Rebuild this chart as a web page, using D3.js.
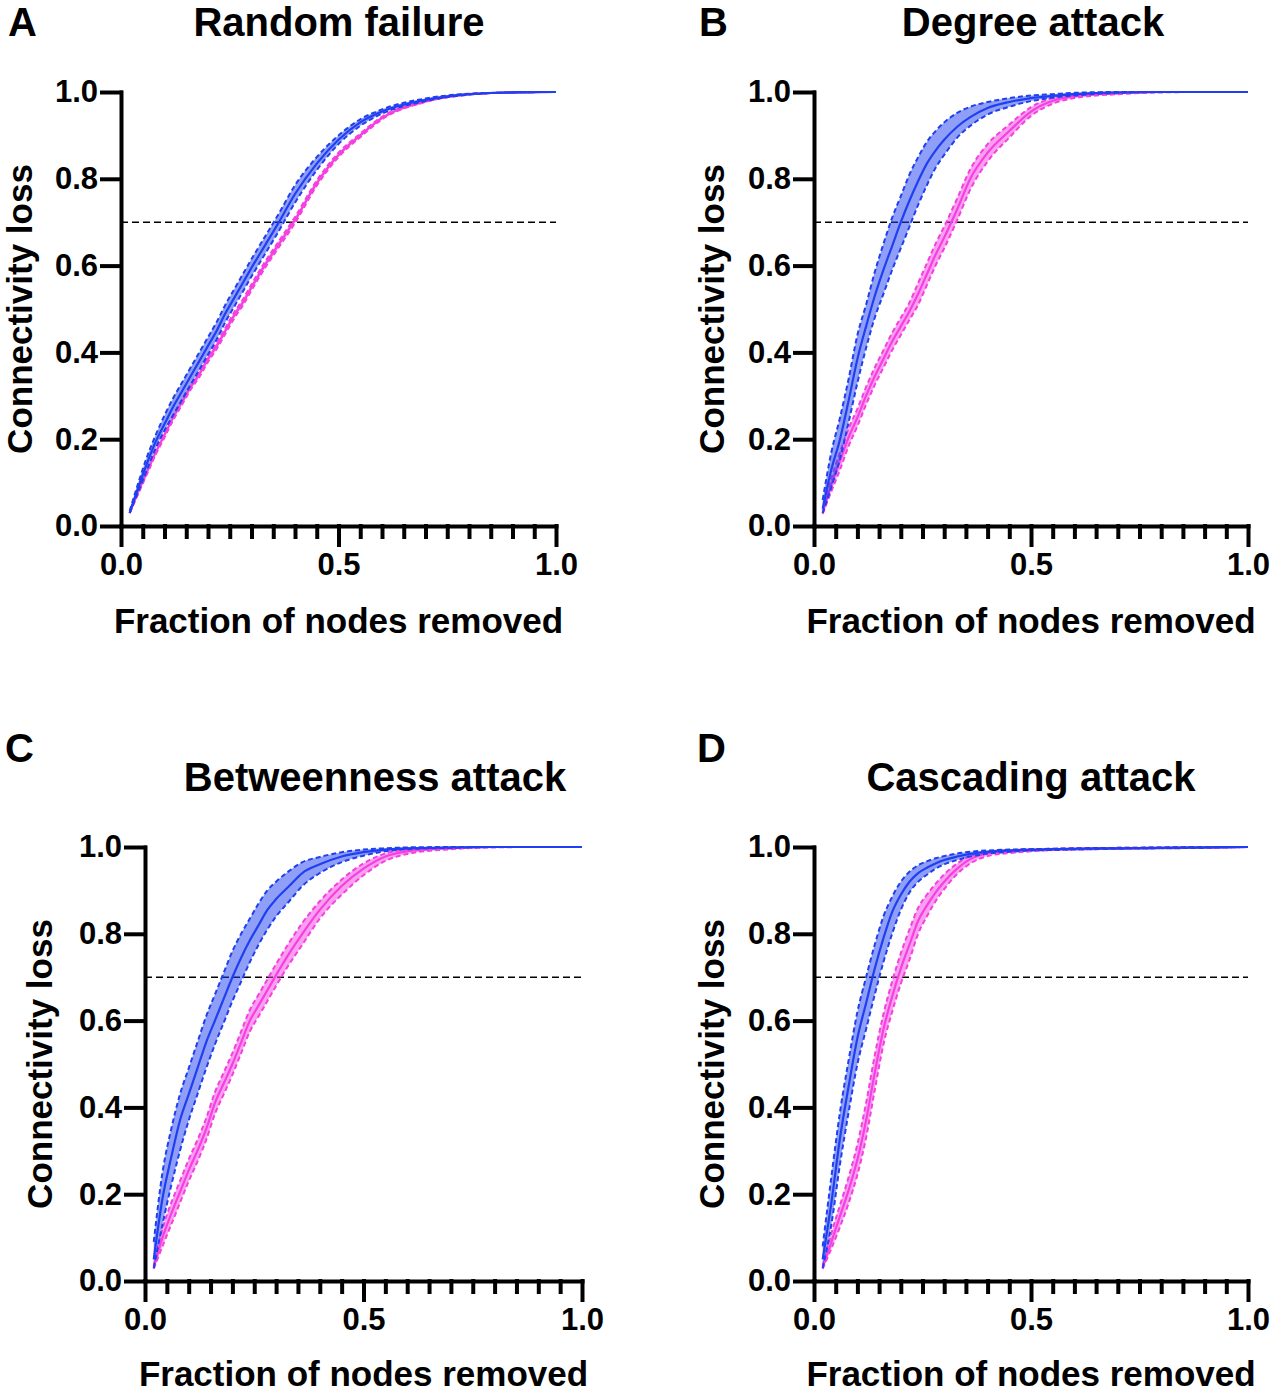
<!DOCTYPE html>
<html>
<head>
<meta charset="utf-8">
<script src="https://cdn.jsdelivr.net/npm/d3@7"></script>
<style>
  body { margin: 0; background: #fff; }
  svg text { font-family: "Liberation Sans", Arial, Helvetica, sans-serif; font-weight: bold; fill: #000; }
</style>
</head>
<body>
<div id="fig"></div>
<script>
/* Fraction of nodes removed (shared x grid) */
var fraction = [0.02, 0.04, 0.06, 0.08, 0.10, 0.12, 0.14, 0.16, 0.18, 0.20, 0.22, 0.24, 0.26,
                0.28, 0.30, 0.33, 0.36, 0.40, 0.45, 0.50, 0.55, 0.60, 0.70, 0.80, 0.90, 1.00];

var yTicks = [0, 0.2, 0.4, 0.6, 0.8, 1.0];
var xMajorTicks = [0, 0.5, 1.0];
var xMinorTicks = [0.05, 0.1, 0.15, 0.2, 0.25, 0.3, 0.35, 0.4, 0.45, 0.55, 0.6, 0.65, 0.7, 0.75, 0.8, 0.85, 0.9, 0.95];
var threshold = 0.7;

var panelTitles = ["Random failure", "Degree attack", "Betweenness attack", "Cascading attack"];
var panelLetters = ["A", "B", "C", "D"];

/* A - Random failure */
var randBlueMean  = [0.03, 0.09, 0.145, 0.195, 0.235, 0.275, 0.31, 0.345, 0.38, 0.415, 0.45, 0.49, 0.525, 0.56, 0.595, 0.645, 0.695, 0.765, 0.835, 0.89, 0.93, 0.955, 0.982, 0.995, 0.999, 1.0];
var randBlueUpper = [0.035, 0.10, 0.16, 0.21, 0.255, 0.295, 0.33, 0.365, 0.40, 0.435, 0.47, 0.51, 0.545, 0.58, 0.615, 0.665, 0.715, 0.785, 0.85, 0.9, 0.937, 0.96, 0.985, 0.996, 0.999, 1.0];
var randBlueLower = [0.03, 0.08, 0.13, 0.18, 0.22, 0.255, 0.29, 0.325, 0.36, 0.395, 0.43, 0.47, 0.505, 0.54, 0.575, 0.625, 0.675, 0.745, 0.82, 0.88, 0.922, 0.95, 0.979, 0.994, 0.999, 1.0];
var randPinkMean  = [0.03, 0.08, 0.125, 0.17, 0.21, 0.25, 0.285, 0.32, 0.35, 0.385, 0.415, 0.45, 0.485, 0.515, 0.55, 0.6, 0.645, 0.705, 0.79, 0.855, 0.9, 0.94, 0.978, 0.995, 0.999, 1.0];
var randPinkUpper = [0.03, 0.085, 0.13, 0.175, 0.216, 0.256, 0.291, 0.326, 0.357, 0.392, 0.422, 0.457, 0.492, 0.522, 0.557, 0.607, 0.652, 0.712, 0.796, 0.86, 0.904, 0.943, 0.979, 0.995, 0.999, 1.0];
var randPinkLower = [0.03, 0.075, 0.12, 0.165, 0.204, 0.244, 0.279, 0.314, 0.343, 0.378, 0.408, 0.443, 0.478, 0.508, 0.543, 0.593, 0.638, 0.698, 0.784, 0.85, 0.896, 0.937, 0.977, 0.994, 0.999, 1.0];

/* B - Degree attack */
var degBlueMean  = [0.04, 0.13, 0.2, 0.29, 0.385, 0.46, 0.53, 0.59, 0.645, 0.7, 0.75, 0.795, 0.835, 0.865, 0.89, 0.92, 0.942, 0.963, 0.977, 0.986, 0.991, 0.995, 0.999, 1.0, 1.0, 1.0];
var degBlueUpper = [0.06, 0.17, 0.25, 0.34, 0.44, 0.51, 0.585, 0.65, 0.71, 0.76, 0.81, 0.85, 0.885, 0.91, 0.93, 0.952, 0.966, 0.977, 0.986, 0.992, 0.995, 0.998, 1.0, 1.0, 1.0, 1.0];
var degBlueLower = [0.03, 0.09, 0.155, 0.24, 0.33, 0.41, 0.48, 0.535, 0.59, 0.64, 0.69, 0.74, 0.785, 0.825, 0.855, 0.895, 0.922, 0.948, 0.966, 0.979, 0.987, 0.992, 0.998, 1.0, 1.0, 1.0];
var degPinkMean  = [0.03, 0.095, 0.15, 0.205, 0.25, 0.3, 0.345, 0.385, 0.425, 0.46, 0.495, 0.535, 0.58, 0.625, 0.665, 0.73, 0.8, 0.86, 0.91, 0.955, 0.98, 0.99, 0.997, 1.0, 1.0, 1.0];
var degPinkUpper = [0.035, 0.11, 0.17, 0.225, 0.27, 0.32, 0.365, 0.405, 0.445, 0.48, 0.515, 0.56, 0.605, 0.65, 0.69, 0.755, 0.822, 0.88, 0.925, 0.965, 0.986, 0.994, 0.998, 1.0, 1.0, 1.0];
var degPinkLower = [0.028, 0.08, 0.13, 0.185, 0.23, 0.28, 0.325, 0.365, 0.405, 0.44, 0.475, 0.51, 0.555, 0.6, 0.64, 0.705, 0.775, 0.84, 0.895, 0.945, 0.973, 0.986, 0.995, 0.999, 1.0, 1.0];

/* C - Betweenness attack */
var betBlueMean  = [0.05, 0.19, 0.285, 0.37, 0.43, 0.49, 0.55, 0.6, 0.65, 0.7, 0.745, 0.785, 0.82, 0.855, 0.88, 0.91, 0.94, 0.96, 0.978, 0.988, 0.994, 0.997, 0.999, 1.0, 1.0, 1.0];
var betBlueUpper = [0.09, 0.25, 0.35, 0.43, 0.49, 0.55, 0.61, 0.66, 0.71, 0.76, 0.8, 0.835, 0.87, 0.9, 0.92, 0.945, 0.965, 0.977, 0.988, 0.994, 0.997, 0.999, 1.0, 1.0, 1.0, 1.0];
var betBlueLower = [0.03, 0.13, 0.22, 0.3, 0.37, 0.43, 0.49, 0.545, 0.595, 0.645, 0.69, 0.735, 0.775, 0.81, 0.84, 0.875, 0.91, 0.94, 0.965, 0.98, 0.99, 0.995, 0.998, 1.0, 1.0, 1.0];
var betPinkMean  = [0.03, 0.1, 0.155, 0.205, 0.255, 0.3, 0.35, 0.41, 0.455, 0.5, 0.55, 0.6, 0.635, 0.67, 0.705, 0.755, 0.8, 0.855, 0.91, 0.95, 0.978, 0.99, 0.997, 1.0, 1.0, 1.0];
var betPinkUpper = [0.035, 0.12, 0.18, 0.23, 0.28, 0.325, 0.375, 0.435, 0.48, 0.525, 0.575, 0.625, 0.66, 0.695, 0.73, 0.78, 0.825, 0.875, 0.925, 0.962, 0.985, 0.994, 0.998, 1.0, 1.0, 1.0];
var betPinkLower = [0.028, 0.08, 0.13, 0.18, 0.23, 0.275, 0.325, 0.385, 0.43, 0.475, 0.525, 0.575, 0.61, 0.645, 0.68, 0.73, 0.775, 0.835, 0.89, 0.935, 0.968, 0.984, 0.995, 0.999, 1.0, 1.0];

/* D - Cascading attack */
var casBlueMean  = [0.05, 0.18, 0.33, 0.45, 0.56, 0.64, 0.72, 0.79, 0.85, 0.89, 0.92, 0.94, 0.952, 0.962, 0.97, 0.978, 0.984, 0.989, 0.992, 0.994, 0.995, 0.996, 0.997, 0.998, 0.999, 1.0];
var casBlueUpper = [0.08, 0.24, 0.39, 0.51, 0.62, 0.7, 0.775, 0.84, 0.885, 0.92, 0.943, 0.958, 0.967, 0.974, 0.979, 0.985, 0.989, 0.992, 0.994, 0.995, 0.996, 0.997, 0.998, 0.999, 1.0, 1.0];
var casBlueLower = [0.03, 0.13, 0.27, 0.39, 0.5, 0.58, 0.66, 0.735, 0.8, 0.855, 0.895, 0.92, 0.936, 0.95, 0.96, 0.97, 0.978, 0.985, 0.989, 0.992, 0.993, 0.994, 0.996, 0.997, 0.998, 1.0];
var casPinkMean  = [0.03, 0.09, 0.15, 0.21, 0.28, 0.37, 0.48, 0.58, 0.655, 0.72, 0.775, 0.83, 0.865, 0.895, 0.92, 0.95, 0.972, 0.985, 0.99, 0.993, 0.995, 0.996, 0.997, 0.998, 0.999, 1.0];
var casPinkUpper = [0.035, 0.11, 0.175, 0.24, 0.315, 0.41, 0.52, 0.615, 0.69, 0.755, 0.81, 0.86, 0.89, 0.915, 0.937, 0.962, 0.98, 0.989, 0.993, 0.995, 0.996, 0.997, 0.998, 0.999, 1.0, 1.0];
var casPinkLower = [0.028, 0.075, 0.125, 0.18, 0.245, 0.33, 0.44, 0.545, 0.62, 0.685, 0.74, 0.8, 0.84, 0.875, 0.903, 0.938, 0.962, 0.979, 0.986, 0.99, 0.993, 0.994, 0.996, 0.997, 0.998, 1.0];

var blue = "#1f3ff0";
var pink = "#f53fe0";

var FigCtrl = {
  svg: null,

  panels: [
    { x0: 121, x1: 556, yTop: 92, yBot: 526, titleX: 339, titleY: 36, letterX: 8, letterY: 36, ylabX: 32, xlabY: 633,
      series: [[randPinkMean, randPinkUpper, randPinkLower, pink], [randBlueMean, randBlueUpper, randBlueLower, blue]] },
    { x0: 814, x1: 1248, yTop: 92, yBot: 526, titleX: 1033, titleY: 36, letterX: 699, letterY: 36, ylabX: 724, xlabY: 633,
      series: [[degPinkMean, degPinkUpper, degPinkLower, pink], [degBlueMean, degBlueUpper, degBlueLower, blue]] },
    { x0: 145, x1: 582, yTop: 847, yBot: 1281, titleX: 375, titleY: 791, letterX: 5, letterY: 762, ylabX: 52, xlabY: 1386,
      series: [[betPinkMean, betPinkUpper, betPinkLower, pink], [betBlueMean, betBlueUpper, betBlueLower, blue]] },
    { x0: 814, x1: 1248, yTop: 847, yBot: 1281, titleX: 1031, titleY: 791, letterX: 697, letterY: 762, ylabX: 724, xlabY: 1386,
      series: [[casPinkMean, casPinkUpper, casPinkLower, pink], [casBlueMean, casBlueUpper, casBlueLower, blue]] }
  ],

  init: function () {
    this.svg = d3.select("#fig").append("svg")
      .attr("width", 1274)
      .attr("height", 1393);
    this.panels.forEach(function (p, i) { FigCtrl.drawPanel(p, i); });
  },

  /**
   * Draw one panel: bands, mean lines, threshold, axes and labels.
   */
  drawPanel: function (p, i) {
    var g = this.svg.append("g").attr("class", "panel");
    var x = d3.scaleLinear().domain([0, 1]).range([p.x0, p.x1]);
    var y = d3.scaleLinear().domain([0, 1]).range([p.yBot, p.yTop]);

    var line = function (vals) {
      return d3.line()
        .x(function (d, k) { return x(fraction[k]); })
        .y(function (d) { return y(d); })
        .curve(d3.curveMonotoneX)(vals);
    };
    var area = d3.area()
      .x(function (d) { return x(d.f); })
      .y0(function (d) { return y(d.lo); })
      .y1(function (d) { return y(d.hi); })
      .curve(d3.curveMonotoneX);

    /* Threshold line */
    g.append("line")
      .attr("x1", x(0)).attr("x2", x(1))
      .attr("y1", y(threshold)).attr("y2", y(threshold))
      .style("stroke", "#000")
      .style("stroke-width", 1.6)
      .style("stroke-dasharray", "7,4");

    /* Bands and mean curves */
    p.series.forEach(function (s) {
      var mean = s[0], hi = s[1], lo = s[2], col = s[3];
      var rows = fraction.map(function (f, k) { return { f: f, hi: hi[k], lo: lo[k] }; });
      g.append("path")
        .attr("d", area(rows))
        .style("fill", col)
        .style("fill-opacity", 0.5)
        .style("stroke", "none");
      [hi, lo].forEach(function (b) {
        g.append("path")
          .attr("d", line(b))
          .style("fill", "none")
          .style("stroke", col)
          .style("stroke-width", 2)
          .style("stroke-dasharray", "5,3");
      });
      g.append("path")
        .attr("d", line(mean))
        .style("fill", "none")
        .style("stroke", col)
        .style("stroke-width", 2.2);
    });

    /* y axis */
    var ya = g.append("g")
      .attr("transform", "translate(" + p.x0 + ",0)")
      .call(d3.axisLeft(y).tickValues(yTicks).tickFormat(d3.format(".1f")).tickSize(19).tickSizeOuter(0).tickPadding(4));
    ya.selectAll("text").style("font-size", "31px");

    /* x axis, minor ticks */
    var xm = g.append("g")
      .attr("transform", "translate(0," + p.yBot + ")")
      .call(d3.axisBottom(x).tickValues(xMinorTicks).tickSize(11).tickSizeOuter(0).tickFormat(""));
    xm.select(".domain").remove();

    /* x axis, major ticks */
    var xa = g.append("g")
      .attr("transform", "translate(0," + p.yBot + ")")
      .call(d3.axisBottom(x).tickValues(xMajorTicks).tickFormat(d3.format(".1f")).tickSize(19).tickSizeOuter(0).tickPadding(8));
    xa.selectAll("text").style("font-size", "31px");

    g.selectAll(".domain, .tick line")
      .style("stroke", "#000")
      .style("stroke-width", 4)
      .style("stroke-linecap", "square");

    /* Axis titles */
    g.append("text")
      .attr("x", (p.x0 + p.x1) / 2)
      .attr("y", p.xlabY)
      .style("font-size", "35px")
      .style("text-anchor", "middle")
      .text("Fraction of nodes removed");

    g.append("text")
      .attr("transform", "translate(" + p.ylabX + "," + ((p.yTop + p.yBot) / 2) + ") rotate(-90)")
      .style("font-size", "35px")
      .style("text-anchor", "middle")
      .text("Connectivity loss");

    /* Panel title and letter */
    g.append("text")
      .attr("x", p.titleX)
      .attr("y", p.titleY)
      .style("font-size", "40px")
      .style("text-anchor", "middle")
      .text(panelTitles[i]);

    g.append("text")
      .attr("x", p.letterX)
      .attr("y", p.letterY)
      .style("font-size", "40px")
      .style("text-anchor", "start")
      .text(panelLetters[i]);
  }
};

FigCtrl.init();
</script>
</body>
</html>
